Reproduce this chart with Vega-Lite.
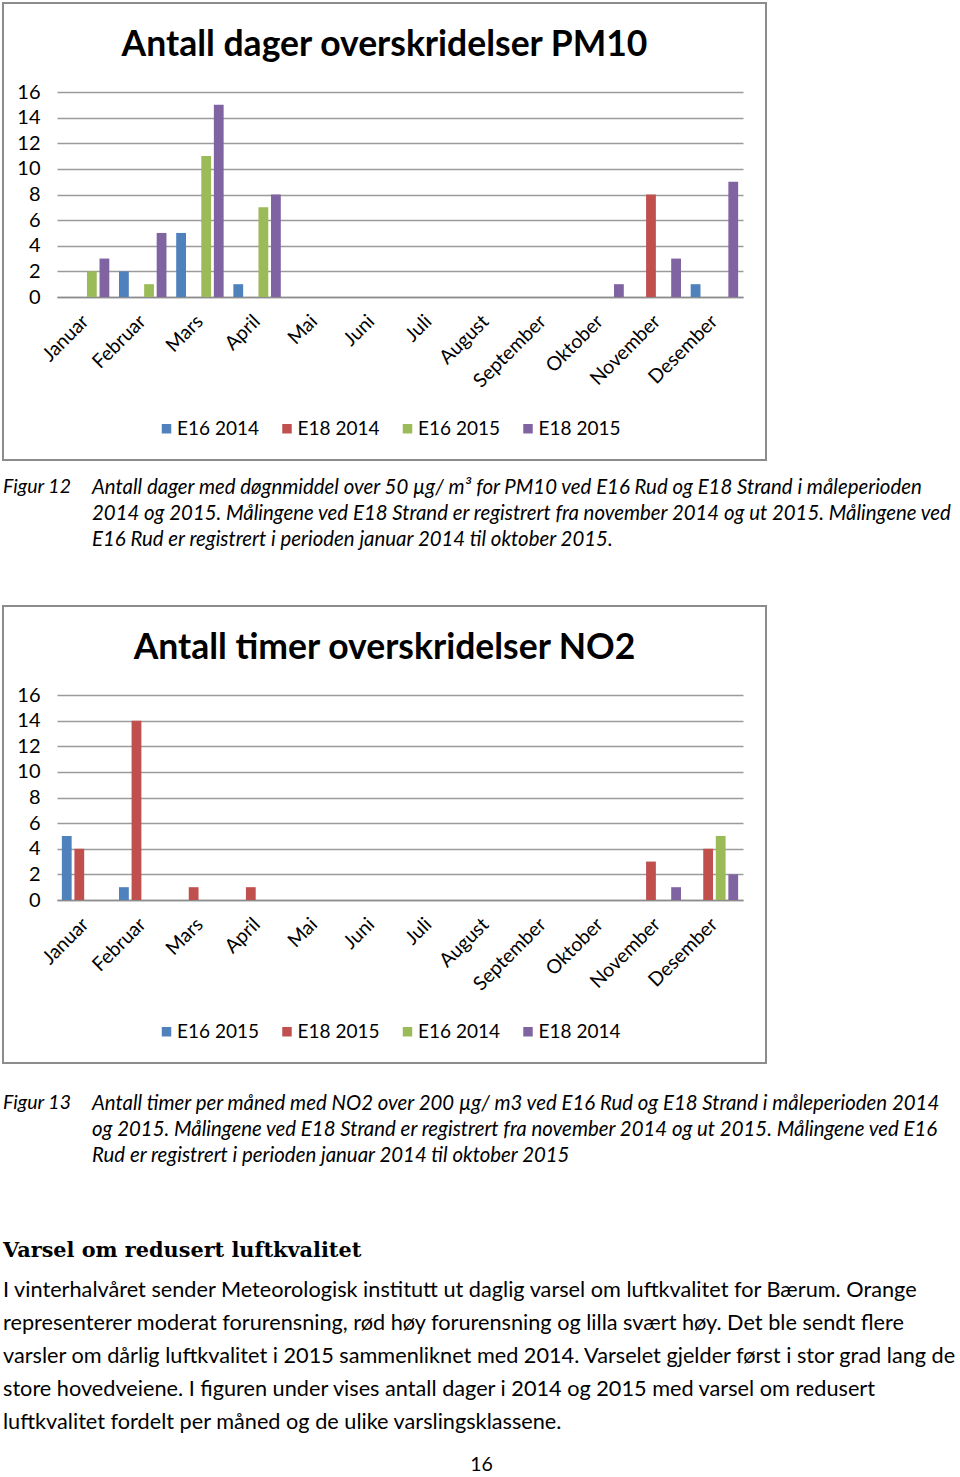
{
  "$schema": "https://vega.github.io/schema/vega-lite/v6.json",
  "background": "white",
  "padding": {"left": 2, "top": 2, "right": 0, "bottom": 0},
  "spacing": 0,
  "resolve": {"scale": {"color": "independent", "xOffset": "independent"}, "legend": {"color": "independent"}},
  "config": {
    "view": {"stroke": null},
    "font": "Lato",
    "title": {"color": "#000000"},
    "axis": {"labelColor": "#000000"},
    "legend": {"labelColor": "#000000"}
  },
  "datasets": {
    "pm10": [
      {"month": "Januar", "series": "E16 2015", "value": 2},
      {"month": "Januar", "series": "E18 2015", "value": 3},
      {"month": "Februar", "series": "E16 2014", "value": 2},
      {"month": "Februar", "series": "E16 2015", "value": 1},
      {"month": "Februar", "series": "E18 2015", "value": 5},
      {"month": "Mars", "series": "E16 2014", "value": 5},
      {"month": "Mars", "series": "E16 2015", "value": 11},
      {"month": "Mars", "series": "E18 2015", "value": 15},
      {"month": "April", "series": "E16 2014", "value": 1},
      {"month": "April", "series": "E16 2015", "value": 7},
      {"month": "April", "series": "E18 2015", "value": 8},
      {"month": "Oktober", "series": "E18 2015", "value": 1},
      {"month": "November", "series": "E18 2014", "value": 8},
      {"month": "November", "series": "E18 2015", "value": 3},
      {"month": "Desember", "series": "E16 2014", "value": 1},
      {"month": "Desember", "series": "E18 2015", "value": 9}
    ],
    "no2": [
      {"month": "Januar", "series": "E16 2015", "value": 5},
      {"month": "Januar", "series": "E18 2015", "value": 4},
      {"month": "Februar", "series": "E16 2015", "value": 1},
      {"month": "Februar", "series": "E18 2015", "value": 14},
      {"month": "Mars", "series": "E18 2015", "value": 1},
      {"month": "April", "series": "E18 2015", "value": 1},
      {"month": "November", "series": "E18 2015", "value": 3},
      {"month": "November", "series": "E18 2014", "value": 1},
      {"month": "Desember", "series": "E18 2015", "value": 4},
      {"month": "Desember", "series": "E16 2014", "value": 5},
      {"month": "Desember", "series": "E18 2014", "value": 2}
    ]
  },
  "vconcat": [
    {
      "width": 763,
      "height": 457,
      "view": {"stroke": "#8c8c8c", "strokeWidth": 2},
      "title": {"text": "Antall dager overskridelser PM10", "orient": "top", "anchor": "middle", "offset": -60, "font": "Lato", "fontSize": 35.5, "fontWeight": "bold"},
      "data": {"name": "pm10"},
      "mark": {"type": "bar"},
      "encoding": {
        "x": {"field": "month", "type": "nominal",
          "scale": {"domain": ["Januar","Februar","Mars","April","Mai","Juni","Juli","August","September","Oktober","November","Desember"], "range": [54, 740], "paddingInner": 0.17, "paddingOuter": 0.085},
          "axis": {"title": null, "orient": "bottom", "offset": -163, "domain": true, "domainColor": "#8c8c8c", "domainWidth": 1.5, "ticks": false, "tickSize": 0, "labelAngle": -45, "labelAlign": "right", "labelBaseline": "middle", "labelPadding": 21, "labelFont": "Lato", "labelFontSize": 19.5}},
        "xOffset": {"field": "series", "type": "nominal", "scale": {"domain": ["E16 2014","E18 2014","E16 2015","E18 2015"], "paddingInner": 0.22, "paddingOuter": 0}},
        "y": {"field": "value", "type": "quantitative",
          "scale": {"domain": [0, 16], "range": [294, 89], "nice": false},
          "axis": {"title": null, "values": [0,2,4,6,8,10,12,14,16], "offset": -45, "domain": false, "ticks": false, "tickSize": 0, "labelPadding": 8, "labelFont": "Lato", "labelFontSize": 20, "grid": true, "gridColor": "#9b9b9b", "gridWidth": 1.5}},
        "color": {"field": "series", "type": "nominal",
          "scale": {"domain": ["E16 2014","E18 2014","E16 2015","E18 2015"], "range": ["#4f81bd","#c0504d","#9bbb59","#8064a2"]},
          "legend": {"orient": "none", "legendX": 154, "legendY": 416, "direction": "horizontal", "title": null, "symbolType": "square", "symbolSize": 90, "symbolStrokeWidth": 0, "labelFont": "Lato", "labelFontSize": 19, "labelOffset": 1, "columnPadding": 18.5}}
      }
    },
    {
      "spacing": 0,
      "hconcat": [
        {"width": 89, "height": 17, "data": {"values": []}, "mark": "point",
         "title": {"text": "Figur 12", "orient": "bottom", "anchor": "start", "offset": 0, "font": "Lato", "fontStyle": "italic", "fontWeight": "normal", "fontSize": 19.5, "lineHeight": 26}},
        {"width": 868, "height": 17, "data": {"values": []}, "mark": "point",
         "title": {"text": ["Antall dager med døgnmiddel over 50 µg/ m³ for PM10 ved E16 Rud og E18 Strand i måleperioden", "2014 og 2015. Målingene ved E18 Strand er registrert fra november 2014 og ut 2015. Målingene ved", "E16 Rud er registrert i perioden januar 2014 til oktober 2015."], "orient": "bottom", "anchor": "start", "offset": 0, "font": "Lato", "fontStyle": "italic", "fontWeight": "normal", "fontSize": 20.4, "lineHeight": 26}}
      ]
    },
    {"width": 1, "height": 54, "data": {"values": []}, "mark": "point"},
    {
      "width": 763,
      "height": 457,
      "view": {"stroke": "#8c8c8c", "strokeWidth": 2},
      "title": {"text": "Antall timer overskridelser NO2", "orient": "top", "anchor": "middle", "offset": -60, "font": "Lato", "fontSize": 35.5, "fontWeight": "bold"},
      "data": {"name": "no2"},
      "mark": {"type": "bar"},
      "encoding": {
        "x": {"field": "month", "type": "nominal",
          "scale": {"domain": ["Januar","Februar","Mars","April","Mai","Juni","Juli","August","September","Oktober","November","Desember"], "range": [54, 740], "paddingInner": 0.17, "paddingOuter": 0.085},
          "axis": {"title": null, "orient": "bottom", "offset": -163, "domain": true, "domainColor": "#8c8c8c", "domainWidth": 1.5, "ticks": false, "tickSize": 0, "labelAngle": -45, "labelAlign": "right", "labelBaseline": "middle", "labelPadding": 21, "labelFont": "Lato", "labelFontSize": 19.5}},
        "xOffset": {"field": "series", "type": "nominal", "scale": {"domain": ["E16 2015","E18 2015","E16 2014","E18 2014"], "paddingInner": 0.22, "paddingOuter": 0}},
        "y": {"field": "value", "type": "quantitative",
          "scale": {"domain": [0, 16], "range": [294, 89], "nice": false},
          "axis": {"title": null, "values": [0,2,4,6,8,10,12,14,16], "offset": -45, "domain": false, "ticks": false, "tickSize": 0, "labelPadding": 8, "labelFont": "Lato", "labelFontSize": 20, "grid": true, "gridColor": "#9b9b9b", "gridWidth": 1.5}},
        "color": {"field": "series", "type": "nominal",
          "scale": {"domain": ["E16 2015","E18 2015","E16 2014","E18 2014"], "range": ["#4f81bd","#c0504d","#9bbb59","#8064a2"]},
          "legend": {"orient": "none", "legendX": 154, "legendY": 416, "direction": "horizontal", "title": null, "symbolType": "square", "symbolSize": 90, "symbolStrokeWidth": 0, "labelFont": "Lato", "labelFontSize": 19, "labelOffset": 1, "columnPadding": 18.5}}
      }
    },
    {
      "spacing": 0,
      "hconcat": [
        {"width": 89, "height": 30, "data": {"values": []}, "mark": "point",
         "title": {"text": "Figur 13", "orient": "bottom", "anchor": "start", "offset": 0, "font": "Lato", "fontStyle": "italic", "fontWeight": "normal", "fontSize": 19.5, "lineHeight": 26}},
        {"width": 868, "height": 30, "data": {"values": []}, "mark": "point",
         "title": {"text": ["Antall timer per måned med NO2 over 200 µg/ m3 ved E16 Rud og E18 Strand i måleperioden 2014", "og 2015. Målingene ved E18 Strand er registrert fra november 2014 og ut 2015. Målingene ved E16", "Rud er registrert i perioden januar 2014 til oktober 2015"], "orient": "bottom", "anchor": "start", "offset": 0, "font": "Lato", "fontStyle": "italic", "fontWeight": "normal", "fontSize": 20.4, "lineHeight": 26}}
      ]
    },
    {"width": 957, "height": 74, "data": {"values": []}, "mark": "point",
     "title": {"text": "Varsel om redusert luftkvalitet", "orient": "bottom", "anchor": "start", "offset": 0, "font": "DejaVu Serif", "fontSize": 20.8, "fontWeight": "bold",
       "subtitle": ["I vinterhalvåret sender Meteorologisk institutt ut daglig varsel om luftkvalitet for Bærum. Orange", "representerer moderat forurensning, rød høy forurensning og lilla svært høy.  Det ble sendt flere", "varsler om dårlig luftkvalitet i 2015 sammenliknet med 2014. Varselet gjelder først i stor grad lang de", "store hovedveiene. I figuren under vises antall dager i 2014 og 2015 med varsel  om redusert", "luftkvalitet fordelt per måned og de ulike varslingsklassene."],
       "subtitleFont": "Lato", "subtitleFontSize": 21.7, "subtitleLineHeight": 33, "subtitleColor": "#000000", "subtitlePadding": 18}},
    {"width": 957, "height": 22, "data": {"values": []}, "mark": "point",
     "title": {"text": "16", "orient": "bottom", "anchor": "middle", "offset": 0, "font": "Lato", "fontSize": 19.5, "fontWeight": "normal"}}
  ]
}
